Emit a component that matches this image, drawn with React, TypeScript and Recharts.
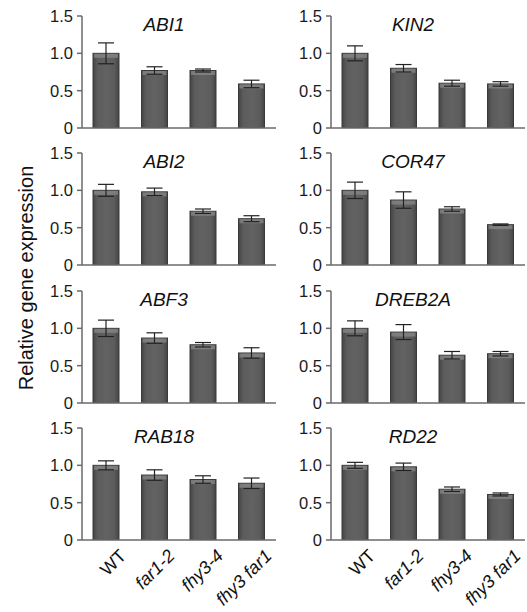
// Relative gene expression panels (8 genes x 4 genotypes)
import { BarChart, Bar, XAxis, YAxis, ErrorBar } from 'recharts'

const genotypes = ['WT', 'far1-2', 'fhy3-4', 'fhy3 far1']
const slots = [0.5, 1.5, 2.5, 3.5]
const yTicks = [0, 0.5, 1, 1.5]

const abi1 = [1.0, 0.77, 0.77, 0.59]
const abi1Err = [0.14, 0.05, 0.02, 0.05]
const kin2 = [1.0, 0.8, 0.6, 0.59]
const kin2Err = [0.1, 0.05, 0.04, 0.03]
const abi2 = [1.0, 0.98, 0.72, 0.62]
const abi2Err = [0.08, 0.05, 0.03, 0.04]
const cor47 = [1.0, 0.87, 0.75, 0.54]
const cor47Err = [0.11, 0.11, 0.03, 0.01]
const abf3 = [1.0, 0.87, 0.78, 0.67]
const abf3Err = [0.11, 0.07, 0.03, 0.07]
const dreb2a = [1.0, 0.95, 0.64, 0.66]
const dreb2aErr = [0.1, 0.1, 0.05, 0.03]
const rab18 = [1.0, 0.87, 0.81, 0.76]
const rab18Err = [0.06, 0.07, 0.05, 0.07]
const rd22 = [1.0, 0.98, 0.68, 0.61]
const rd22Err = [0.04, 0.05, 0.03, 0.02]

const panels = [
    { gene: 'ABI1', values: abi1, errs: abi1Err },
    { gene: 'KIN2', values: kin2, errs: kin2Err },
    { gene: 'ABI2', values: abi2, errs: abi2Err },
    { gene: 'COR47', values: cor47, errs: cor47Err },
    { gene: 'ABF3', values: abf3, errs: abf3Err },
    { gene: 'DREB2A', values: dreb2a, errs: dreb2aErr },
    { gene: 'RAB18', values: rab18, errs: rab18Err },
    { gene: 'RD22', values: rd22, errs: rd22Err },
]

const ROW_STEP = 137.3
const axisColor = '#6a6a6a'

function GenoTick(props: any) {
    const { x, y, payload } = props
    const name = genotypes[slots.indexOf(payload.value)]
    return (
        <g transform={`translate(${x + 21},${y + 9})`}>
            <text
                textAnchor="end"
                transform="rotate(-45)"
                fontSize={18}
                fill="#111"
                fontStyle={name === 'WT' ? 'normal' : 'italic'}
            >
                {name}
            </text>
        </g>
    )
}

function BarShape(props: any) {
    const { x, y, width, height, gid } = props
    if (!height || height <= 0) return null
    return (
        <g>
            <rect x={x} y={y} width={width} height={height} fill={`url(#${gid})`} stroke="#3a3a3a" strokeWidth={1} />
            <rect x={x + 1} y={y + 0.5} width={width - 2} height={4} fill="#8c8c8c" opacity={0.7} />
        </g>
    )
}

function Panel({ idx, values, errs }: { idx: number; values: number[]; errs: number[] }) {
    const col = idx % 2
    const row = Math.floor(idx / 2)
    const last = row === 3
    const data = values.map((v, i) => ({ x: slots[i], v, e: errs[i] }))
    const gid = `barFill${idx}`
    return (
        <div style={{ position: 'absolute', left: col === 0 ? 0 : 249, top: 128 + ROW_STEP * row - 124 }}>
            <BarChart width={276} height={last ? 194 : 132} data={data} margin={{ top: 12, right: 0, left: 22, bottom: 0 }}>
                <defs>
                    <linearGradient id={gid} x1="0" y1="0" x2="1" y2="0">
                        <stop offset="0%" stopColor="#444" />
                        <stop offset="18%" stopColor="#5c5c5c" />
                        <stop offset="50%" stopColor="#626262" />
                        <stop offset="82%" stopColor="#5c5c5c" />
                        <stop offset="100%" stopColor="#444" />
                    </linearGradient>
                </defs>
                <XAxis
                    dataKey="x"
                    type="number"
                    domain={[0, 4]}
                    ticks={[0, 1, 2, 3, 4]}
                    tick={false}
                    tickSize={6}
                    height={8}
                    stroke={axisColor}
                    strokeWidth={1.5}
                    allowDataOverflow
                />
                {last && (
                    <XAxis
                        xAxisId="lab"
                        dataKey="x"
                        type="number"
                        domain={[0, 4]}
                        ticks={slots}
                        interval={0}
                        tickLine={false}
                        axisLine={false}
                        tickSize={0}
                        tickMargin={0}
                        height={62}
                        tick={<GenoTick />}
                        allowDataOverflow
                    />
                )}
                <YAxis
                    domain={[0, 1.5]}
                    ticks={yTicks}
                    interval={0}
                    tickFormatter={(v: number) => (v === 0 ? '0' : v.toFixed(1))}
                    width={60}
                    tickSize={5}
                    tickMargin={4}
                    stroke={axisColor}
                    strokeWidth={1.5}
                    tick={{ fill: '#1a1a1a', fontSize: 16.5 }}
                    allowDataOverflow
                />
                <Bar dataKey="v" barSize={26} isAnimationActive={false} shape={<BarShape gid={gid} />}>
                    <ErrorBar dataKey="e" width={8} stroke="#222" strokeWidth={1.2} />
                </Bar>
            </BarChart>
        </div>
    )
}

export default function App() {
    return (
        <div
            style={{
                position: 'absolute',
                left: 0,
                top: 0,
                width: 527,
                height: 612,
                background: '#fff',
                fontFamily: '"Liberation Sans", Arial, sans-serif',
                overflow: 'hidden',
            }}
        >
            {panels.map((p, i) => (
                <Panel key={p.gene} idx={i} values={p.values} errs={p.errs} />
            ))}
            <svg width={527} height={612} style={{ position: 'absolute', left: 0, top: 0, pointerEvents: 'none' }}>
                {panels.map((p, i) => (
                    <text
                        key={p.gene}
                        x={i % 2 === 0 ? 164 : 413}
                        y={31 + ROW_STEP * Math.floor(i / 2)}
                        textAnchor="middle"
                        fontSize={19}
                        fontStyle="italic"
                        fill="#111"
                    >
                        {p.gene}
                    </text>
                ))}
                <text x={26} y={278} transform="rotate(-90 26 278)" textAnchor="middle" dominantBaseline="central" fontSize={20} fill="#111">
                    Relative gene expression
                </text>
            </svg>
        </div>
    )
}
